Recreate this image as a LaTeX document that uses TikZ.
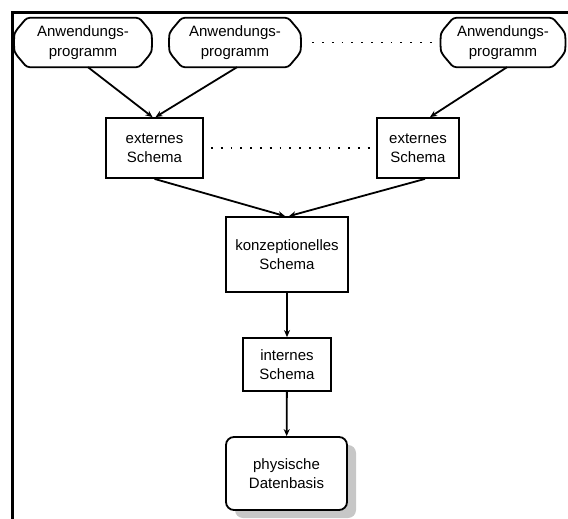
\documentclass[tikz,border=0pt]{standalone}
\usepackage{fontspec}
\setmainfont{Liberation Sans}
\usetikzlibrary{arrows.meta}

\tikzset{
  prog/.style={minimum width=#1, minimum height=49pt, inner sep=0pt, align=center},
  schema/.style={draw, line width=1.8pt, inner sep=0pt, align=center},
  basis/.style={draw, line width=1.8pt, inner sep=0pt, align=center, rounded corners=8pt,
    fill=white, preaction={fill=black!22, transform canvas={xshift=9pt,yshift=-8pt}}},
  rand/.style={line width=1.8pt, rounded corners=3pt},
  pfeil/.style={-{Stealth[length=7pt,width=6pt]}, line width=1.8pt},
  punkte/.style={line width=1.8pt, dash pattern=on 1.8pt off 8pt}
}

\begin{document}
\begin{tikzpicture}[x=1pt,y=-1pt,font=\fontsize{15}{19.5}\selectfont]
\clip (0,0) rectangle (568,519);
\draw[line width=3pt] (12,530) -- (12,13) -- (580,13);
\node[prog=140pt] (p1) at (83,42.5) {Anwendungs-\\programm};
\node[prog=134pt] (p2) at (235,42.5) {Anwendungs-\\programm};
\node[prog=127pt] (p3) at (503,42.5) {Anwendungs-\\programm};
\foreach \n in {p1,p2,p3}
  \draw[rand] ([xshift=14pt]\n.north west) -- ([xshift=-14pt]\n.north east)
    -- ([xshift=-3pt,yshift=-13pt]\n.north east)
    .. controls ([xshift=-1pt,yshift=-18pt]\n.north east) and ([xshift=-1pt,yshift=18pt]\n.south east) .. ([xshift=-3pt,yshift=13pt]\n.south east)
    -- ([xshift=-14pt]\n.south east) -- ([xshift=14pt]\n.south west)
    -- ([xshift=3pt,yshift=13pt]\n.south west)
    .. controls ([xshift=1pt,yshift=18pt]\n.south west) and ([xshift=1pt,yshift=-18pt]\n.north west) .. ([xshift=3pt,yshift=-13pt]\n.north west)
    -- cycle;
\node[schema, minimum width=97pt, minimum height=60pt] (e1) at (154.5,148) {externes\\Schema};
\node[schema, minimum width=82pt, minimum height=60pt] (e2) at (418,148) {externes\\Schema};
\node[schema, minimum width=122pt, minimum height=75pt] (k) at (287,254.5) {konzeptionelles\\Schema};
\node[schema, minimum width=88pt, minimum height=53pt] (i) at (287,364.5) {internes\\Schema};
\node[basis, minimum width=121pt, minimum height=73pt] (d) at (286.5,473.5) {physische\\Datenbasis};
% Verbindungen
\draw[punkte] ([xshift=10pt]p2.east) -- ([xshift=-2pt]p3.west);
\draw[punkte] ([xshift=7pt]e1.east) -- ([xshift=-2pt]e2.west);
\draw[pfeil] ([xshift=5pt]p1.south) -- ([xshift=-2pt]e1.north);
\draw[pfeil] ([xshift=2pt]p2.south) -- ([xshift=1pt]e1.north);
\draw[pfeil] ([xshift=4pt]p3.south) -- ([xshift=12pt]e2.north);
\draw[pfeil] (e1.south) -- ([xshift=-2pt]k.north);
\draw[pfeil] ([xshift=7pt]e2.south) -- ([xshift=2pt]k.north);
\draw[pfeil] (k) -- (i);
\draw[pfeil] (i) -- (d);
\end{tikzpicture}
\end{document}
